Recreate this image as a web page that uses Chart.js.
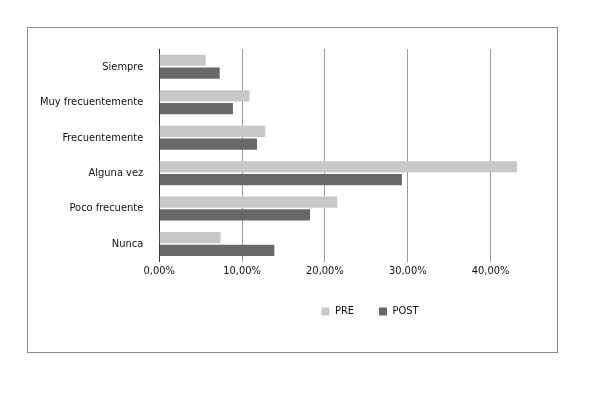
<!DOCTYPE html>
<html lang="es">
<head>
<meta charset="UTF-8">
<style>
  body { margin: 0; background: #fff; }
  #box { position: absolute; left: 27px; top: 27px; width: 529px; height: 324px; border: 1px solid #8a8a8a; }
</style>
<script src="https://cdn.jsdelivr.net/npm/chart.js"></script>
</head>
<body>
<div id="box"><canvas id="chart" width="529" height="324"></canvas></div>
<script>
const categorias = ['Siempre', 'Muy frecuentemente', 'Frecuentemente', 'Alguna vez', 'Poco frecuente', 'Nunca'];
const pre = [5.6, 10.9, 12.8, 43.2, 21.5, 7.4];
const post = [7.3, 8.9, 11.8, 29.3, 18.2, 13.9];

Chart.defaults.font.family = '"DejaVu Sans Condensed", "DejaVu Sans", sans-serif';
Chart.defaults.font.size = 11;
Chart.defaults.color = '#111';

// move the legend a bit right, as in the reference
const shiftLegend = {
  id: 'shiftLegend',
  afterLayout(chart) {
    const lg = chart.legend;
    lg.left += 88; lg.right += 88;
    lg.legendHitBoxes.forEach(b => { b.left += 88; });
  }
};

new Chart(document.getElementById('chart'), {
  type: 'bar',
  data: {
    labels: categorias,
    datasets: [
      { label: 'PRE', data: pre, backgroundColor: '#c8c8c8', barPercentage: 0.88, categoryPercentage: 0.72 },
      { label: 'POST', data: post, backgroundColor: '#686868', barPercentage: 0.88, categoryPercentage: 0.72 }
    ]
  },
  options: {
    indexAxis: 'y',
    responsive: false,
    animation: false,
    layout: { padding: { left: 4, right: 25, top: 21, bottom: 25 } },
    plugins: {
      legend: {
        position: 'bottom',
        labels: { boxWidth: 8, boxHeight: 8, padding: 25, font: { size: 11 } }
      },
      tooltip: { enabled: false }
    },
    scales: {
      x: {
        min: 0, max: 45,
        afterBuildTicks: axis => { axis.ticks = axis.ticks.filter(t => t.value % 10 === 0); },
        ticks: { stepSize: 10, callback: v => v.toFixed(2).replace('.', ',') + '%' },
        grid: { color: '#9a9a9a', drawTicks: false },
        border: { display: false }
      },
      y: {
        grid: { display: false },
        border: { color: '#333' },
        ticks: { padding: 8 }
      }
    }
  },
  plugins: [shiftLegend]
});
</script>
</body>
</html>
